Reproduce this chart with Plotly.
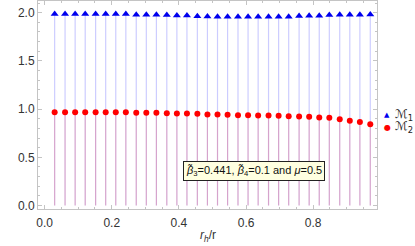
import plotly.graph_objects as go

# r_h / r sample points
x_vals = [0.030, 0.061, 0.091, 0.121, 0.152, 0.182, 0.212, 0.242, 0.273, 0.303,
          0.333, 0.364, 0.394, 0.424, 0.455, 0.485, 0.515, 0.545, 0.576, 0.606,
          0.636, 0.667, 0.697, 0.727, 0.758, 0.788, 0.818, 0.848, 0.879, 0.909,
          0.939, 0.970]
m1_vals = [1.985, 1.985, 1.985, 1.985, 1.985, 1.985, 1.985, 1.985, 1.978, 1.978,
           1.978, 1.975, 1.971, 1.971, 1.964, 1.961, 1.958, 1.958, 1.958, 1.958,
           1.958, 1.958, 1.958, 1.958, 1.965, 1.968, 1.968, 1.975, 1.978, 1.978,
           1.978, 1.982]
m2_vals = [0.968, 0.968, 0.968, 0.968, 0.968, 0.968, 0.968, 0.968, 0.961, 0.961,
           0.961, 0.958, 0.955, 0.955, 0.951, 0.944, 0.944, 0.941, 0.937, 0.937,
           0.934, 0.934, 0.931, 0.927, 0.924, 0.920, 0.913, 0.910, 0.896, 0.879,
           0.865, 0.844]
series_names = ["ℳ<sub>1</sub>", "ℳ<sub>2</sub>"]
note_text = "<i>β̃</i><sub>3</sub>=0.441, <i>β̃</i><sub>4</sub>=0.1 and <i>μ</i>=0.5"

x_ticks = [0.0, 0.2, 0.4, 0.6, 0.8]
y_ticks = [0.0, 0.5, 1.0, 1.5, 2.0]


def stems(xs, ys):
    sx, sy = [], []
    for a, b in zip(xs, ys):
        sx += [a, a, None]
        sy += [0, b, None]
    return sx, sy


fig = go.Figure()
s1x, s1y = stems(x_vals, m1_vals)
s2x, s2y = stems(x_vals, m2_vals)
fig.add_trace(go.Scatter(x=s1x, y=s1y, mode="lines",
                         line=dict(color="rgba(0,0,255,0.2)", width=1.2),
                         showlegend=False, hoverinfo="skip"))
fig.add_trace(go.Scatter(x=s2x, y=s2y, mode="lines",
                         line=dict(color="rgba(255,0,0,0.2)", width=1.2),
                         showlegend=False, hoverinfo="skip"))
fig.add_trace(go.Scatter(x=x_vals, y=m1_vals, mode="markers", name=series_names[0],
                         marker=dict(symbol="triangle-up", size=7, color="#0000ee"),
                         showlegend=False))
fig.add_trace(go.Scatter(x=x_vals, y=m2_vals, mode="markers", name=series_names[1],
                         marker=dict(symbol="circle", size=6, color="#ff0000"),
                         showlegend=False))

axis_common = dict(showline=True, linecolor="#c4c4c4", linewidth=1, mirror="allticks",
                   ticks="inside", ticklen=4, tickcolor="#c4c4c4", tickwidth=1,
                   showgrid=False, zeroline=False, automargin=False,
                   tickfont=dict(family="Liberation Sans, Arial", size=12, color="#333333"))

fig.update_xaxes(range=[-0.0196, 0.990], tickvals=x_ticks,
                 ticktext=[f"{t:.1f}" for t in x_ticks], ticklabelstandoff=3,
                 minor=dict(dtick=0.05, ticks="inside", ticklen=2, tickcolor="#c4c4c4"),
                 **axis_common)
fig.update_yaxes(range=[-0.036, 2.121], tickvals=y_ticks,
                 ticktext=[f"{t:.1f}" for t in y_ticks],
                 minor=dict(dtick=0.1, ticks="inside", ticklen=2, tickcolor="#c4c4c4"),
                 **axis_common)

# x-axis title
fig.add_annotation(xref="paper", yref="paper", x=0.5, y=-0.13,
                   text="<i>r</i><sub><i>h</i></sub>/r", showarrow=False,
                   font=dict(family="Liberation Sans, Arial", size=12, color="#333333"),
                   xanchor="center", yanchor="middle")

# legend (drawn manually)
leg_font = dict(family="DejaVu Sans", size=12, color="#222222")
fig.add_annotation(xref="paper", yref="paper", x=1.03, y=0.45, text="▲", showarrow=False,
                   font=dict(family="DejaVu Sans", size=7, color="#0000ee"),
                   xanchor="center", yanchor="middle")
fig.add_annotation(xref="paper", yref="paper", x=1.047, y=0.45, text=series_names[0],
                   showarrow=False, font=leg_font, xanchor="left", yanchor="middle")
fig.add_annotation(xref="paper", yref="paper", x=1.03, y=0.393, text="●", showarrow=False,
                   font=dict(family="DejaVu Sans", size=8, color="#ff0000"),
                   xanchor="center", yanchor="middle")
fig.add_annotation(xref="paper", yref="paper", x=1.047, y=0.393, text=series_names[1],
                   showarrow=False, font=leg_font, xanchor="left", yanchor="middle")

# parameter note
fig.add_annotation(xref="x", yref="y", x=0.624, y=0.36, text=note_text, showarrow=False,
                   font=dict(family="Liberation Sans, Arial", size=11, color="#111111"),
                   bgcolor="#ffffe0", bordercolor="#222222", borderwidth=1, borderpad=2)

fig.update_layout(width=415, height=246, margin=dict(l=38, r=38, t=1, b=37),
                  plot_bgcolor="white", paper_bgcolor="white", showlegend=False)
fig.write_html("out.html", config={"displayModeBar": False},
               post_script="document.body.style.margin='0px';")
